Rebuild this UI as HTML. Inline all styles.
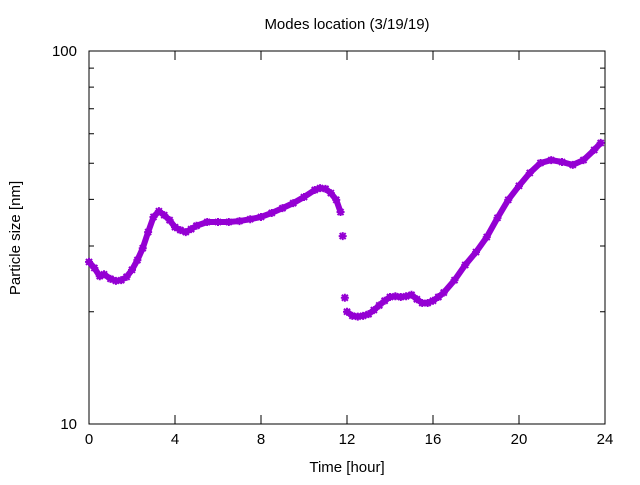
<!DOCTYPE html>
<html><head><meta charset="utf-8"><style>
body{margin:0;background:#fff}
svg text{font-family:"Liberation Sans",sans-serif;font-size:15px;fill:#000}
</style></head><body>
<svg width="640" height="480" xmlns="http://www.w3.org/2000/svg">
<g id="axes"></g>
<g id="series"></g>
<text x="347" y="29" text-anchor="middle">Modes location (3/19/19)</text>
<text x="347" y="472" text-anchor="middle">Time [hour]</text>
<text transform="translate(20,238) rotate(-90)" text-anchor="middle">Particle size [nm]</text>
</svg>
<script>
const hours=[0,0.25,0.5,0.7,1,1.25,1.5,1.75,2,2.25,2.5,2.75,3,3.25,3.5,3.75,4,4.25,4.5,4.75,5,5.5,6,6.5,7,7.5,8,8.5,9,9.5,10,10.5,10.75,11,11.25,11.5,11.7,11.8,11.9,12,12.25,12.5,12.75,13,13.25,13.5,13.75,14,14.25,14.5,14.75,15,15.25,15.5,15.75,16,16.25,16.5,17,17.5,18,18.5,19,19.5,20,20.5,21,21.5,22,22.5,23,23.5,23.8];
const sizes=[27.2,26.2,24.9,25.2,24.5,24.2,24.3,24.8,25.9,27.5,29.6,32.7,35.9,37.2,36.3,35.2,33.7,33.1,32.7,33.3,34.0,34.8,34.8,34.8,35.0,35.4,35.9,36.8,37.9,39.1,40.6,42.4,42.9,42.7,41.6,39.9,37.0,31.9,21.8,20.0,19.5,19.4,19.5,19.7,20.2,20.8,21.4,21.9,22.0,21.9,22.0,22.2,21.6,21.1,21.1,21.4,21.9,22.5,24.3,26.7,28.9,31.7,35.7,39.9,43.5,47.1,50.1,51.0,50.4,49.5,51.0,54.3,56.7];
const xTicks=[0,4,8,12,16,20,24];
const yTickLabels=[10,100];
const X0=89,X1=605,Y0=424,Y1=51;
const xs=h=>X0+(X1-X0)*h/24;
const ys=v=>Y0-(Y0-Y1)*Math.log10(v/10);
const NS="http://www.w3.org/2000/svg";
const axes=document.getElementById('axes'),ser=document.getElementById('series');
function mk(tag,at,parent){const e=document.createElementNS(NS,tag);for(const k in at)e.setAttribute(k,at[k]);parent.appendChild(e);return e;}
const frame=mk('rect',{x:X0,y:Y1,width:X1-X0,height:Y0-Y1,fill:'none',stroke:'#000','stroke-width':1},axes);


xTicks.forEach(t=>{const x=xs(t);
 const l=mk('path',{d:`M${x} ${Y0}v-9M${x} ${Y1}v9`,stroke:'#000'},axes);
 
 
 const tx=mk('text',{x:x,y:Y0+20,'text-anchor':'middle'},axes);tx.textContent=t;
 
 
});
for(let v=20;v<=90;v+=10){const y=ys(v);
 const l=mk('path',{d:`M${X0} ${y}h5M${X1} ${y}h-5`,stroke:'#000'},axes);
 
 
}
yTickLabels.forEach(v=>{const y=ys(v);
 const l=mk('path',{d:`M${X0} ${y}h9M${X1} ${y}h-9`,stroke:'#000'},axes);
 
 
 const tx=mk('text',{x:X0-12,y:y+5,'text-anchor':'end'},axes);tx.textContent=v;
 
 
});
let d='';
hours.forEach((h,i)=>{if(hours[i]>11.75&&hours[i]<=12.0)d+=`M${xs(h)} ${ys(sizes[i])}`;else d+=(i?'L':'M')+xs(h)+' '+ys(sizes[i]);});
const pl=mk('path',{d:d,fill:'none',stroke:'#9400d3','stroke-width':6,'stroke-linejoin':'round','stroke-linecap':'round'},ser);


hours.forEach((h,i)=>{const x=xs(h),y=ys(sizes[i]);
 const p=mk('path',{d:`M${x-4} ${y}h8M${x} ${y-4}v8M${x-3} ${y-3}l6 6M${x-3} ${y+3}l6 -6`,stroke:'#9400d3','stroke-width':2},ser);
 
 
});
</script>
</body></html>
